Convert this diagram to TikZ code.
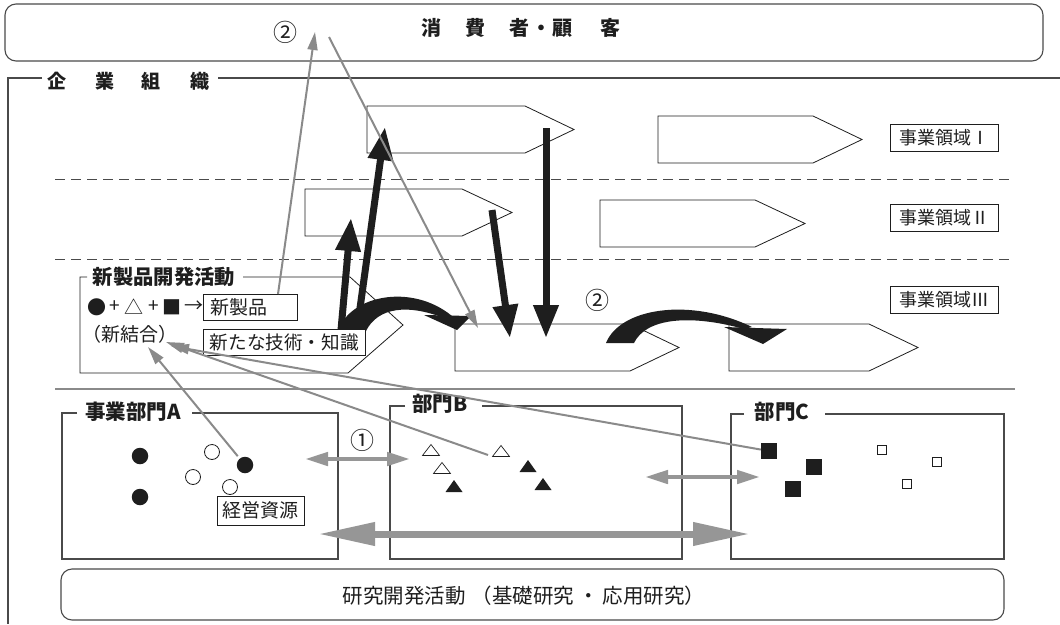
\documentclass[tikz,border=0pt]{standalone}
\usepackage{fontspec}
\setmainfont{Noto Sans CJK JP}
\usetikzlibrary{arrows.meta}
\definecolor{gline}{HTML}{8A8A8A}
\definecolor{garrow}{HTML}{969696}
\definecolor{frame}{HTML}{4A4A4A}
\definecolor{ink}{HTML}{1E1E1E}
\newcommand{\fs}[1]{\fontsize{#1}{#1}\selectfont}
\newcommand{\pentshape}[5]{\draw[pent] (#1,#2) -- (#4,#2) -- (#5,{(#2+#3)/2}) -- (#4,#3) -- (#1,#3) -- cycle;}
\newcommand{\wtri}[2]{\draw[ink, line width=0.7pt, fill=white] (#1-8.5,#2+5.5) -- (#1+8.5,#2+5.5) -- (#1,#2-5.5) -- cycle;}
\newcommand{\btri}[2]{\fill[ink] (#1-8.5,#2+6) -- (#1+8.5,#2+6) -- (#1,#2-6) -- cycle;}
\begin{document}
\begin{tikzpicture}[x=1pt,y=-1pt,
  pent/.style={draw=ink, line width=0.8pt},
  ttl/.style={font=\fs{20.5}\bfseries, text=ink, inner sep=0pt},
  lab/.style={font=\fs{19}, text=ink, inner sep=0pt},
  num/.style={font=\fs{24}, text=ink, inner sep=0pt},
  tag/.style={draw=ink, line width=0.8pt, fill=white, font=\fs{18}, inner sep=0pt, text=ink},
  bbox/.style={draw=frame, line width=1.1pt},
  blk/.style={draw=ink, line width=7pt, -{Triangle[length=33pt,width=24pt]}},
  gar/.style={draw=gline, line width=2pt, -{Triangle[length=18pt,width=10pt]}},
  dbl/.style={draw=garrow, line width=4.5pt, {Triangle[length=23pt,width=13pt]}-{Triangle[length=23pt,width=13pt]}},
  dblbig/.style={draw=garrow, line width=7pt, {Triangle[length=57pt,width=22pt]}-{Triangle[length=57pt,width=22pt]}},
  bdot/.style={circle, fill=ink, minimum size=16.5pt, inner sep=0pt},
  wdot/.style={circle, draw=ink, line width=0.8pt, fill=white, minimum size=15pt, inner sep=0pt},
  bsq/.style={rectangle, fill=ink, minimum size=16pt, inner sep=0pt},
  wsq/.style={rectangle, draw=ink, line width=0.8pt, fill=white, minimum size=9pt, inner sep=0pt},
  dashln/.style={draw=frame, line width=1pt, dash pattern=on 10pt off 6pt},
]
\useasboundingbox[fill=white] (0,0) rectangle (1060,624);

% consumer box
\node[draw=frame, line width=1.1pt, rounded corners=11pt, minimum width=1038pt, minimum height=57pt, inner sep=0pt] (cons) at (524,32.5) {};
\node[ttl, font=\fs{20}\bfseries] (constxt) at (521,28) {消\hspace{24pt}費\hspace{24pt}者\hspace{2pt}・\hspace{1pt}顧\hspace{28pt}客};
\node[num] (c2a) at (285,32) {②};

% company frame
\draw[draw=frame, line width=1.2pt] (42,78) -- (8,78) -- (8,624);
\draw[draw=frame, line width=1.2pt] (218,78) -- (1060,78);
\node[ttl, font=\fs{19}\bfseries] (corp) at (128.5,81) {企\hspace{29pt}業\hspace{27pt}組\hspace{30pt}織};

% dashed and solid separators
\draw[dashln] (55,179) -- (1015,179);
\draw[dashln] (55,259) -- (1015,259);
\draw[draw=gline, line width=2.2pt] (55,389) -- (1015,389);

% pentagon arrows (business domains)
\pentshape{367}{106}{153}{525}{574}
\pentshape{658}{116}{163}{813}{862}
\pentshape{305}{189}{236}{462}{512}
\pentshape{600}{200}{247}{755}{805}
\pentshape{455}{324}{371}{630}{679}
\pentshape{729}{324}{371}{869}{918}

\node[tag, minimum width=108pt, minimum height=27pt] (dom1) at (944,137.5) {事業領域Ⅰ};
\node[tag, minimum width=108pt, minimum height=27pt] (dom2) at (944,218) {事業領域Ⅱ};
\node[tag, minimum width=108pt, minimum height=27pt] (dom3) at (944,300) {事業領域Ⅲ};
\node[num] (c2b) at (597,300) {②};

% new product development frame
\draw[draw=ink, line width=0.8pt] (87,277) -- (80,277) -- (80,373) -- (348,373) -- (403,325) -- (350,277) -- (243,277);
\node[ttl, font=\fs{20.3}\bfseries] (npd) at (164,277) {新製品開発活動};
\node[lab] (f1) at (96.5,307) {●};
\node[lab] (f2) at (115,307) {+};
\node[lab] (f3) at (133.5,307) {△};
\node[lab] (f4) at (154,307) {+};
\node[lab] (f5) at (171.5,307) {■};
\node[lab] (f6) at (193.5,307) {→};
\node[lab] (comb) at (130,334) {（新結合）};

% black arrows
\coordinate (k1s) at (341,330); \coordinate (k1e) at (351,218);
\coordinate (k2s) at (357,330); \coordinate (k2e) at (385,127);
\coordinate (k3s) at (492,210); \coordinate (k3e) at (510,338);
\coordinate (k4s) at (546,128); \coordinate (k4e) at (546,338);
\draw[blk] (k1s) -- (k1e);
\draw[blk] (k2s) -- (k2e);
\draw[blk] (k3s) -- (k3e);
\draw[blk] (k4s) -- (k4e);

% swooshes
\fill[ink] (338,331) .. controls (350,295) and (412,283) .. (452,316)
  -- (444,318) .. controls (408,304) and (378,307) .. (366,331) -- cycle;
\fill[ink] (424,315) -- (471,316) -- (457,330) -- cycle;
\fill[ink] (606,343) .. controls (620,308) and (690,297) .. (752,327)
  -- (744,329) .. controls (690,314) and (646,318) .. (634,343) -- cycle;
\fill[ink] (724,327) -- (787,329) -- (763,344) -- cycle;

% text boxes
\node[tag, anchor=north west, minimum height=26pt, text width=80pt, inner xsep=7pt, align=left, font=\fs{19}] (prod) at (203,294) {新製品};
\node[tag, anchor=north west, minimum height=26pt, text width=149pt, inner xsep=6.5pt, align=left, font=\fs{18.6}] (tech) at (203,329) {新たな技術・知識};

% department boxes
\draw[bbox] (77,413) -- (62,413) -- (62,559) -- (338,559) -- (338,413) -- (192,413);
\node[ttl] (depA) at (133,412) {事業部門A};
\draw[bbox] (405,406) -- (390,406) -- (390,559) -- (682,559) -- (682,406) -- (482,406);
\node[ttl] (depB) at (440,404) {部門B};
\draw[bbox] (744,414) -- (731,414) -- (731,559) -- (1004,559) -- (1004,414) -- (825,414);
\node[ttl] (depC) at (782,412) {部門C};

% R&D box
\node[draw=frame, line width=1.1pt, rounded corners=11pt, minimum width=943pt, minimum height=51pt, inner sep=0pt] (rd) at (532.5,594.5) {};
\node[font=\fs{20.5}, text=ink, inner sep=0pt] (rdtxt) at (524,596) {研究開発活動\hspace{6pt}（基礎研究\hspace{4pt}・\hspace{4pt}応用研究）};

% resources in A
\node[bdot] (a1) at (140,456) {};
\node[bdot] (a2) at (140,497) {};
\node[bdot] (a3) at (245,465) {};
\node[wdot] (a4) at (212,452) {};
\node[wdot] (a5) at (193,477) {};
\node[wdot] (a6) at (230,487) {};
\node[tag, minimum width=87pt, minimum height=29pt, font=\fs{19}] (res) at (260.5,510.5) {経営資源};

% resources in B
\wtri{431}{450}
\wtri{442}{468}
\wtri{501}{451}
\btri{454}{486}
\btri{528}{466}
\btri{543}{484}
\coordinate (b3) at (488,455);

% resources in C
\node[bsq] (c1) at (769,451) {};
\node[bsq] (c2) at (814,467) {};
\node[bsq] (c3) at (793,489) {};
\node[wsq] (c4) at (882,450) {};
\node[wsq] (c5) at (937,462) {};
\node[wsq] (c6) at (907,484) {};

% grey exchange arrows
\node[num] (c1lab) at (362,440) {①};
\coordinate (dAB1) at (305,459); \coordinate (dAB2) at (410,459);
\coordinate (dBC1) at (645,477); \coordinate (dBC2) at (760,477);
\coordinate (dAC1) at (318,534); \coordinate (dAC2) at (750,534);
\draw[dbl] (dAB1) -- (dAB2);
\draw[dbl] (dBC1) -- (dBC2);
\draw[dblbig] (dAC1) -- (dAC2);

% grey thin arrows
\coordinate (up1) at (315,32);
\coordinate (dn1s) at (329,37); \coordinate (dn1e) at (478,328);
\coordinate (tA) at (148,347);
\coordinate (tB) at (166,342);
\coordinate (tC) at (171,346);
\draw[gar] (prod.north -| 278,0) -- (up1);
\draw[gar] (dn1s) -- (dn1e);
\draw[gar, shorten <=3pt] (a3) -- (tA);
\draw[gar] (b3) -- (tB);
\draw[gar] (c1) -- (tC);
\end{tikzpicture}
\end{document}
